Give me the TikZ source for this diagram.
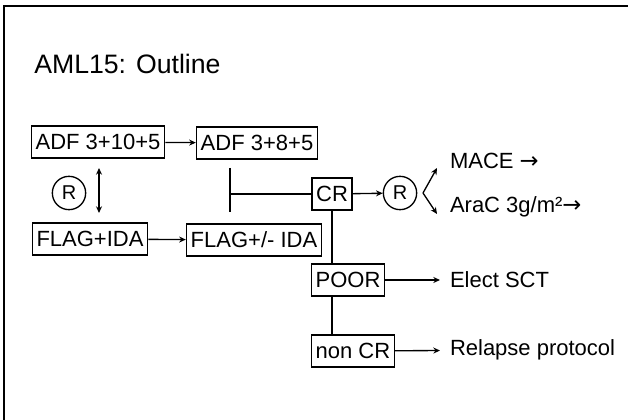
\documentclass[tikz,border=0pt]{standalone}
\usepackage{fontspec}
\setmainfont{Liberation Sans}
\newfontfamily\arrowfont{DejaVu Sans}
\usetikzlibrary{arrows.meta}

\begin{document}
\begin{tikzpicture}[x=0.75pt, y=-0.75pt,
    box/.style={draw, line width=1pt, font=\fontsize{16.5}{18}\selectfont, inner xsep=3.2pt, inner ysep=0pt, minimum height=24pt},
    rmark/.style={draw, circle, line width=1pt, font=\fontsize{15}{16}\selectfont, inner sep=0pt, minimum size=25pt},
    lbl/.style={anchor=west, font=\fontsize{16.5}{18}\selectfont, inner sep=0pt, outer xsep=7.5pt},
    link/.style={line width=1pt},
    arr/.style={line width=1pt, -{Stealth[length=5pt, width=4.5pt]}}]
    \useasboundingbox (0,0) rectangle (628,420);

    % Frame
    \draw[line width=1.5pt] (4,420) -- (4,6) -- (628,6);

    % Title
    \node[anchor=west, font=\fontsize{20}{24}\selectfont, inner sep=0pt] (title) at (34,64) {AML15: Outline};

    % Induction boxes
    \node[box] (adfa) at (98,142) {ADF 3+10+5};
    \node[box] (adfb) at (257,143) {ADF 3+8+5};
    \node[box] (flaga) at (90,239) {FLAG+IDA};
    \node[box] (flagb) at (254,240) {FLAG+/- IDA};
    \node[rmark] (rand) at (69,193) {R};

    \draw[arr] (adfa) -- (adfb);
    \draw[arr] (flaga) -- (flagb);

    \coordinate (swtop) at (99,168);
    \coordinate (swbot) at (99,213);
    \draw[line width=1pt, {Stealth[length=5pt, width=4.5pt]}-{Stealth[length=5pt, width=4.5pt]}] (swtop) -- (swbot);

    % Response boxes
    \node[box] (cr) at (332,194) {CR};
    \node[box] (poor) at (348,280) {POOR};
    \node[box] (noncr) at (353,351) {non CR};

    \coordinate (jtop) at (230,168);
    \coordinate (jbot) at (230,212);
    \draw[link] (jtop) -- (jbot);
    \draw[link] (jtop |- cr) -- (cr);

    \draw[link] (cr.south) -- (cr.south |- poor.north);
    \draw[link] (cr.south |- poor.south) -- (cr.south |- noncr.north);

    % Consolidation
    \node[rmark] (randb) at (400,193) {R};
    \draw[arr] (cr) -- (randb);

    \coordinate (fork) at (423,193);
    \coordinate (mtip) at (437,168);
    \coordinate (atip) at (437,214);
    \draw[arr] (fork) -- (mtip);
    \draw[arr] (fork) -- (atip);

    \node[lbl] (mace) at (440,161) {MACE {\arrowfont\fontsize{17}{18}\selectfont →}};
    \node[lbl] (arac) at (440,207) {AraC 3g/m²{\arrowfont\fontsize{17}{18}\selectfont →}};
    \node[lbl] (sct) at (440,280) {Elect SCT};
    \node[lbl] (relapse) at (440,350) {Relapse protocol};

    \draw[arr] (poor) -- (sct);
    \draw[arr] (noncr) -- (relapse);
\end{tikzpicture}
\end{document}
